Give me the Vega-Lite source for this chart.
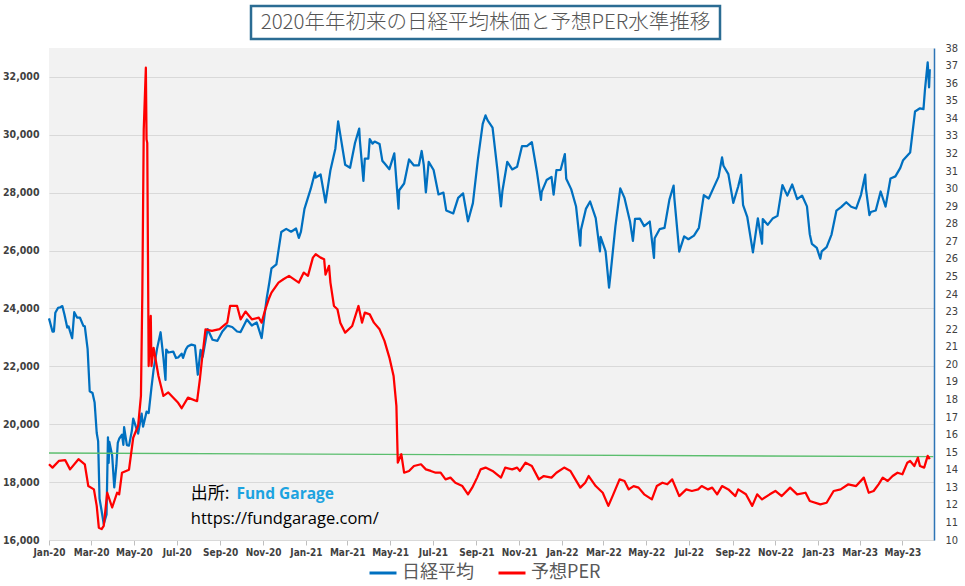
{
  "$schema": "https://vega.github.io/schema/vega-lite/v6.json",
  "background": "white",
  "padding": {"top": 4, "left": 2, "right": 3, "bottom": 0},
  "config": {"view": {"stroke": null}, "font": "Noto Sans CJK JP"},
  "spacing": 1,
  "center": false,
  "datasets": {
    "nikkei": [
      {"date":"2020-01-01","value":23657},{"date":"2020-01-06","value":23204},{"date":"2020-01-08","value":23204},{"date":"2020-01-10","value":23850},{"date":"2020-01-14","value":24025},{"date":"2020-01-17","value":24041},{"date":"2020-01-20","value":24083},{"date":"2020-01-23","value":23795},{"date":"2020-01-27","value":23343},{"date":"2020-01-29","value":23379},{"date":"2020-01-31","value":23205},
      {"date":"2020-02-03","value":22971},{"date":"2020-02-06","value":23873},{"date":"2020-02-10","value":23686},{"date":"2020-02-14","value":23687},{"date":"2020-02-19","value":23400},{"date":"2020-02-21","value":23386},{"date":"2020-02-25","value":22605},{"date":"2020-02-28","value":21142},
      {"date":"2020-03-03","value":21082},{"date":"2020-03-06","value":20749},{"date":"2020-03-09","value":19698},{"date":"2020-03-11","value":19416},{"date":"2020-03-13","value":17431},{"date":"2020-03-16","value":17002},{"date":"2020-03-19","value":16552},{"date":"2020-03-23","value":16887},{"date":"2020-03-25","value":19546},{"date":"2020-03-26","value":18665},{"date":"2020-03-27","value":19389},{"date":"2020-03-31","value":18917},
      {"date":"2020-04-03","value":17820},{"date":"2020-04-06","value":18576},{"date":"2020-04-08","value":19353},{"date":"2020-04-10","value":19498},{"date":"2020-04-14","value":19638},{"date":"2020-04-16","value":19290},{"date":"2020-04-17","value":19897},{"date":"2020-04-21","value":19280},{"date":"2020-04-24","value":19262},{"date":"2020-04-28","value":19771},{"date":"2020-04-30","value":20193},
      {"date":"2020-05-07","value":19674},{"date":"2020-05-12","value":20366},{"date":"2020-05-14","value":19915},{"date":"2020-05-19","value":20433},{"date":"2020-05-22","value":20388},{"date":"2020-05-26","value":21271},{"date":"2020-05-29","value":21877},
      {"date":"2020-06-03","value":22613},{"date":"2020-06-08","value":23178},{"date":"2020-06-12","value":22305},{"date":"2020-06-15","value":21530},{"date":"2020-06-16","value":22582},{"date":"2020-06-19","value":22478},{"date":"2020-06-26","value":22512},{"date":"2020-06-30","value":22288},
      {"date":"2020-07-03","value":22306},{"date":"2020-07-08","value":22438},{"date":"2020-07-10","value":22290},{"date":"2020-07-14","value":22587},{"date":"2020-07-17","value":22696},{"date":"2020-07-22","value":22751},{"date":"2020-07-27","value":22715},{"date":"2020-07-31","value":21710},
      {"date":"2020-08-04","value":22573},{"date":"2020-08-07","value":22329},{"date":"2020-08-14","value":23289},{"date":"2020-08-21","value":22920},{"date":"2020-08-28","value":22882},
      {"date":"2020-09-04","value":23205},{"date":"2020-09-11","value":23406},{"date":"2020-09-18","value":23360},{"date":"2020-09-25","value":23204},{"date":"2020-09-30","value":23185},
      {"date":"2020-10-09","value":23619},{"date":"2020-10-16","value":23410},{"date":"2020-10-23","value":23516},{"date":"2020-10-30","value":22977},
      {"date":"2020-11-06","value":24325},{"date":"2020-11-10","value":24905},{"date":"2020-11-13","value":25385},{"date":"2020-11-20","value":25527},{"date":"2020-11-27","value":26644},
      {"date":"2020-12-04","value":26751},{"date":"2020-12-11","value":26652},{"date":"2020-12-18","value":26763},{"date":"2020-12-22","value":26436},{"date":"2020-12-25","value":26656},{"date":"2020-12-30","value":27444},
      {"date":"2021-01-08","value":28139},{"date":"2021-01-14","value":28698},{"date":"2021-01-15","value":28519},{"date":"2021-01-22","value":28631},{"date":"2021-01-29","value":27663},
      {"date":"2021-02-05","value":28779},{"date":"2021-02-12","value":29520},{"date":"2021-02-16","value":30467},{"date":"2021-02-19","value":30017},{"date":"2021-02-26","value":28966},
      {"date":"2021-03-05","value":28864},{"date":"2021-03-12","value":29717},{"date":"2021-03-18","value":30216},{"date":"2021-03-19","value":29792},{"date":"2021-03-24","value":28405},{"date":"2021-03-26","value":29176},{"date":"2021-03-31","value":29178},
      {"date":"2021-04-02","value":29854},{"date":"2021-04-06","value":29696},{"date":"2021-04-09","value":29768},{"date":"2021-04-16","value":29683},{"date":"2021-04-20","value":29100},{"date":"2021-04-23","value":29020},{"date":"2021-04-30","value":28812},
      {"date":"2021-05-07","value":29357},{"date":"2021-05-13","value":27448},{"date":"2021-05-14","value":28084},{"date":"2021-05-21","value":28317},{"date":"2021-05-28","value":29149},
      {"date":"2021-06-04","value":28941},{"date":"2021-06-11","value":28948},{"date":"2021-06-15","value":29441},{"date":"2021-06-18","value":28964},{"date":"2021-06-21","value":28010},{"date":"2021-06-25","value":29066},
      {"date":"2021-07-02","value":28783},{"date":"2021-07-09","value":27940},{"date":"2021-07-16","value":28003},{"date":"2021-07-20","value":27388},{"date":"2021-07-30","value":27283},
      {"date":"2021-08-06","value":27820},{"date":"2021-08-13","value":27977},{"date":"2021-08-20","value":27013},{"date":"2021-08-27","value":27641},
      {"date":"2021-09-03","value":29128},{"date":"2021-09-10","value":30381},{"date":"2021-09-14","value":30670},{"date":"2021-09-17","value":30500},{"date":"2021-09-24","value":30249},
      {"date":"2021-10-01","value":28771},{"date":"2021-10-06","value":27528},{"date":"2021-10-08","value":28049},{"date":"2021-10-15","value":29069},{"date":"2021-10-22","value":28805},{"date":"2021-10-29","value":28893},
      {"date":"2021-11-05","value":29612},{"date":"2021-11-12","value":29610},{"date":"2021-11-19","value":29746},{"date":"2021-11-26","value":28752},
      {"date":"2021-12-02","value":27753},{"date":"2021-12-03","value":28030},{"date":"2021-12-10","value":28437},{"date":"2021-12-17","value":28546},{"date":"2021-12-20","value":27937},{"date":"2021-12-24","value":28782},{"date":"2021-12-30","value":28792},
      {"date":"2022-01-05","value":29332},{"date":"2022-01-07","value":28479},{"date":"2022-01-14","value":28124},{"date":"2022-01-21","value":27522},{"date":"2022-01-27","value":26170},{"date":"2022-01-28","value":26717},
      {"date":"2022-02-04","value":27440},{"date":"2022-02-10","value":27696},{"date":"2022-02-18","value":27122},{"date":"2022-02-24","value":25971},{"date":"2022-02-25","value":26476},
      {"date":"2022-03-04","value":25985},{"date":"2022-03-09","value":24717},{"date":"2022-03-11","value":25162},{"date":"2022-03-18","value":26827},{"date":"2022-03-25","value":28149},{"date":"2022-03-31","value":27821},
      {"date":"2022-04-08","value":26985},{"date":"2022-04-12","value":26334},{"date":"2022-04-15","value":27093},{"date":"2022-04-22","value":27105},{"date":"2022-04-28","value":26847},
      {"date":"2022-05-06","value":27003},{"date":"2022-05-12","value":25748},{"date":"2022-05-13","value":26427},{"date":"2022-05-20","value":26739},{"date":"2022-05-27","value":26782},
      {"date":"2022-06-03","value":27761},{"date":"2022-06-09","value":28246},{"date":"2022-06-10","value":27824},{"date":"2022-06-17","value":25963},{"date":"2022-06-24","value":26491},{"date":"2022-06-30","value":26393},
      {"date":"2022-07-08","value":26517},{"date":"2022-07-15","value":26788},{"date":"2022-07-22","value":27914},{"date":"2022-07-29","value":27801},
      {"date":"2022-08-05","value":28175},{"date":"2022-08-12","value":28546},{"date":"2022-08-17","value":29222},{"date":"2022-08-19","value":28930},{"date":"2022-08-26","value":28641},
      {"date":"2022-09-02","value":27650},{"date":"2022-09-09","value":28214},{"date":"2022-09-13","value":28614},{"date":"2022-09-16","value":27567},{"date":"2022-09-22","value":27153},{"date":"2022-09-30","value":25937},
      {"date":"2022-10-07","value":27116},{"date":"2022-10-13","value":26237},{"date":"2022-10-14","value":27090},{"date":"2022-10-21","value":26890},{"date":"2022-10-28","value":27105},
      {"date":"2022-11-04","value":27199},{"date":"2022-11-11","value":28263},{"date":"2022-11-18","value":27899},{"date":"2022-11-25","value":28283},
      {"date":"2022-12-02","value":27777},{"date":"2022-12-09","value":27901},{"date":"2022-12-16","value":27527},{"date":"2022-12-20","value":26568},{"date":"2022-12-23","value":26235},{"date":"2022-12-30","value":26094},
      {"date":"2023-01-04","value":25717},{"date":"2023-01-06","value":25974},{"date":"2023-01-13","value":26119},{"date":"2023-01-20","value":26553},{"date":"2023-01-27","value":27382},
      {"date":"2023-02-03","value":27509},{"date":"2023-02-10","value":27671},{"date":"2023-02-17","value":27513},{"date":"2023-02-24","value":27453},
      {"date":"2023-03-03","value":27927},{"date":"2023-03-09","value":28623},{"date":"2023-03-10","value":28143},{"date":"2023-03-15","value":27229},{"date":"2023-03-17","value":27334},{"date":"2023-03-24","value":27385},{"date":"2023-03-31","value":28041},
      {"date":"2023-04-07","value":27518},{"date":"2023-04-14","value":28493},{"date":"2023-04-21","value":28564},{"date":"2023-04-28","value":28856},
      {"date":"2023-05-02","value":29123},{"date":"2023-05-12","value":29388},{"date":"2023-05-19","value":30808},{"date":"2023-05-26","value":30916},{"date":"2023-05-31","value":30888},
      {"date":"2023-06-02","value":31524},{"date":"2023-06-06","value":32506},{"date":"2023-06-08","value":31641},{"date":"2023-06-09","value":32265}
    ],
    "per": [
      {"date":"2020-01-01","value":14.31},{"date":"2020-01-06","value":14.12},{"date":"2020-01-15","value":14.5},{"date":"2020-01-24","value":14.55},{"date":"2020-01-31","value":14.02},{"date":"2020-02-12","value":14.6},{"date":"2020-02-21","value":14.31},{"date":"2020-02-26","value":13.07},
      {"date":"2020-03-05","value":12.88},{"date":"2020-03-09","value":11.94},{"date":"2020-03-12","value":10.7},{"date":"2020-03-16","value":10.62},{"date":"2020-03-19","value":10.8},{"date":"2020-03-24","value":12.69},{"date":"2020-03-31","value":11.85},
      {"date":"2020-04-07","value":12.69},{"date":"2020-04-10","value":12.6},{"date":"2020-04-14","value":13.83},{"date":"2020-04-24","value":14.0},{"date":"2020-04-30","value":15.82},
      {"date":"2020-05-07","value":16.5},{"date":"2020-05-11","value":18.2},{"date":"2020-05-13","value":24.08},{"date":"2020-05-15","value":33.37},{"date":"2020-05-18","value":36.88},{"date":"2020-05-19","value":32.8},{"date":"2020-05-20","value":32.6},{"date":"2020-05-22","value":19.9},{"date":"2020-05-25","value":22.75},{"date":"2020-05-26","value":19.9},{"date":"2020-05-29","value":20.94},
      {"date":"2020-06-05","value":19.33},{"date":"2020-06-12","value":18.2},{"date":"2020-06-19","value":18.4},{"date":"2020-07-03","value":17.81},{"date":"2020-07-08","value":17.5},{"date":"2020-07-17","value":18.1},{"date":"2020-07-30","value":17.9},
      {"date":"2020-08-03","value":19.15},{"date":"2020-08-06","value":20.28},{"date":"2020-08-11","value":21.99},{"date":"2020-08-20","value":21.9},{"date":"2020-08-31","value":22.0},
      {"date":"2020-09-11","value":22.37},{"date":"2020-09-15","value":23.32},{"date":"2020-09-25","value":23.32},{"date":"2020-09-30","value":22.56},
      {"date":"2020-10-07","value":23.0},{"date":"2020-10-16","value":22.56},{"date":"2020-10-26","value":22.65},{"date":"2020-10-30","value":22.37},
      {"date":"2020-11-04","value":23.1},{"date":"2020-11-09","value":23.7},{"date":"2020-11-13","value":24.08},{"date":"2020-11-23","value":24.65},{"date":"2020-11-30","value":24.84},
      {"date":"2020-12-08","value":25.03},{"date":"2020-12-22","value":24.65},{"date":"2020-12-29","value":25.22},
      {"date":"2021-01-04","value":25.03},{"date":"2021-01-11","value":26.07},{"date":"2021-01-15","value":26.26},{"date":"2021-01-22","value":26.07},{"date":"2021-01-27","value":25.98},{"date":"2021-01-29","value":25.1},
      {"date":"2021-02-03","value":25.6},{"date":"2021-02-05","value":24.65},{"date":"2021-02-10","value":23.32},{"date":"2021-02-15","value":23.13},{"date":"2021-02-19","value":22.37},{"date":"2021-02-26","value":21.8},
      {"date":"2021-03-08","value":22.18},{"date":"2021-03-17","value":23.32},{"date":"2021-03-22","value":22.37},{"date":"2021-03-26","value":22.94},
      {"date":"2021-04-02","value":22.84},{"date":"2021-04-08","value":22.37},{"date":"2021-04-16","value":21.99},{"date":"2021-04-23","value":21.33},{"date":"2021-04-30","value":20.38},
      {"date":"2021-05-06","value":19.33},{"date":"2021-05-10","value":17.63},{"date":"2021-05-12","value":14.4},{"date":"2021-05-17","value":14.88},{"date":"2021-05-21","value":13.83},{"date":"2021-05-28","value":13.93},
      {"date":"2021-06-04","value":14.21},{"date":"2021-06-14","value":14.31},{"date":"2021-06-21","value":14.02},{"date":"2021-06-28","value":13.93},
      {"date":"2021-07-05","value":13.83},{"date":"2021-07-12","value":13.83},{"date":"2021-07-19","value":13.45},{"date":"2021-07-26","value":13.55},
      {"date":"2021-08-02","value":13.26},{"date":"2021-08-12","value":13.07},{"date":"2021-08-20","value":12.6},{"date":"2021-08-26","value":12.98},
      {"date":"2021-09-02","value":13.55},{"date":"2021-09-07","value":14.02},{"date":"2021-09-14","value":14.12},{"date":"2021-09-24","value":13.93},
      {"date":"2021-10-06","value":13.55},{"date":"2021-10-12","value":14.12},{"date":"2021-10-22","value":14.02},{"date":"2021-10-29","value":14.12},
      {"date":"2021-11-02","value":13.93},{"date":"2021-11-10","value":14.4},{"date":"2021-11-19","value":14.21},{"date":"2021-11-29","value":13.45},
      {"date":"2021-12-06","value":13.64},{"date":"2021-12-17","value":13.55},{"date":"2021-12-24","value":13.83},
      {"date":"2022-01-04","value":14.12},{"date":"2022-01-13","value":13.93},{"date":"2022-01-20","value":13.45},{"date":"2022-01-27","value":12.98},
      {"date":"2022-02-03","value":13.26},{"date":"2022-02-08","value":13.64},{"date":"2022-02-18","value":13.07},{"date":"2022-02-28","value":12.69},
      {"date":"2022-03-08","value":11.94},{"date":"2022-03-14","value":12.5},{"date":"2022-03-24","value":13.45},{"date":"2022-03-31","value":13.36},
      {"date":"2022-04-06","value":12.88},{"date":"2022-04-13","value":13.07},{"date":"2022-04-20","value":12.98},{"date":"2022-04-28","value":12.6},
      {"date":"2022-05-09","value":12.31},{"date":"2022-05-16","value":13.07},{"date":"2022-05-24","value":13.26},{"date":"2022-05-31","value":13.17},
      {"date":"2022-06-07","value":13.45},{"date":"2022-06-17","value":12.5},{"date":"2022-06-27","value":12.88},
      {"date":"2022-07-05","value":12.79},{"date":"2022-07-14","value":12.88},{"date":"2022-07-19","value":13.07},{"date":"2022-07-28","value":12.88},
      {"date":"2022-08-03","value":12.98},{"date":"2022-08-10","value":12.6},{"date":"2022-08-17","value":13.07},{"date":"2022-08-26","value":12.88},
      {"date":"2022-09-05","value":12.5},{"date":"2022-09-09","value":12.88},{"date":"2022-09-20","value":12.6},{"date":"2022-09-29","value":11.94},
      {"date":"2022-10-06","value":12.6},{"date":"2022-10-13","value":12.31},{"date":"2022-10-24","value":12.6},
      {"date":"2022-11-01","value":12.79},{"date":"2022-11-10","value":12.5},{"date":"2022-11-22","value":12.98},
      {"date":"2022-12-02","value":12.6},{"date":"2022-12-14","value":12.69},{"date":"2022-12-20","value":12.22},
      {"date":"2023-01-04","value":12.03},{"date":"2023-01-13","value":12.12},{"date":"2023-01-23","value":12.79},
      {"date":"2023-02-02","value":12.88},{"date":"2023-02-13","value":13.17},{"date":"2023-02-24","value":13.07},
      {"date":"2023-03-07","value":13.55},{"date":"2023-03-14","value":12.69},{"date":"2023-03-21","value":12.79},{"date":"2023-03-28","value":13.17},
      {"date":"2023-04-03","value":13.55},{"date":"2023-04-10","value":13.36},{"date":"2023-04-17","value":13.64},{"date":"2023-04-24","value":13.83},
      {"date":"2023-05-01","value":13.74},{"date":"2023-05-08","value":14.4},{"date":"2023-05-12","value":14.5},{"date":"2023-05-18","value":14.21},{"date":"2023-05-23","value":14.69},{"date":"2023-05-26","value":14.21},
      {"date":"2023-06-01","value":14.12},{"date":"2023-06-06","value":14.79},{"date":"2023-06-09","value":14.6}
    ],
    "base": [
      {"date":"2020-01-01","value":14.95},{"date":"2023-06-14","value":14.74}
    ]
  },
  "vconcat": [
    {
      "hconcat": [
        {
          "width": 200,
          "height": 33,
          "data": {"values": [{"t": ""}]},
          "mark": {"type": "text"},
          "encoding": {"text": {"field": "t", "type": "nominal"}}
        },
        {
          "width": 469,
          "height": 33,
          "view": {"stroke": "#2B6C93", "strokeWidth": 2.5, "fill": "white"},
          "data": {"values": [{"t": "2020年年初来の日経平均株価と予想PER水準推移"}]},
          "mark": {"type": "text", "fontSize": 20.5, "font": "Noto Sans CJK JP", "fontWeight": 300, "color": "#555555"},
          "encoding": {"text": {"field": "t", "type": "nominal"}}
        }
      ],
      "spacing": 0
    },
    {
      "width": 885,
      "height": 492,
      "view": {"fill": "#F2F2F2", "stroke": null},
      "encoding": {
        "x": {
          "field": "date",
          "type": "temporal",
          "title": null,
          "scale": {"type": "utc", "domain": [{"year":2020,"month":1,"date":1,"utc":true},{"year":2023,"month":6,"date":15,"utc":true}]},
          "axis": {
            "values": [
              {"year":2020,"month":1,"date":1,"utc":true},{"year":2020,"month":3,"date":1,"utc":true},{"year":2020,"month":5,"date":1,"utc":true},{"year":2020,"month":7,"date":1,"utc":true},{"year":2020,"month":9,"date":1,"utc":true},{"year":2020,"month":11,"date":1,"utc":true},
              {"year":2021,"month":1,"date":1,"utc":true},{"year":2021,"month":3,"date":1,"utc":true},{"year":2021,"month":5,"date":1,"utc":true},{"year":2021,"month":7,"date":1,"utc":true},{"year":2021,"month":9,"date":1,"utc":true},{"year":2021,"month":11,"date":1,"utc":true},
              {"year":2022,"month":1,"date":1,"utc":true},{"year":2022,"month":3,"date":1,"utc":true},{"year":2022,"month":5,"date":1,"utc":true},{"year":2022,"month":7,"date":1,"utc":true},{"year":2022,"month":9,"date":1,"utc":true},{"year":2022,"month":11,"date":1,"utc":true},
              {"year":2023,"month":1,"date":1,"utc":true},{"year":2023,"month":3,"date":1,"utc":true},{"year":2023,"month":5,"date":1,"utc":true}
            ],
            "format": "%b-%y",
            "grid": false,
            "labelFont": "DejaVu Sans Condensed",
            "labelFontSize": 10,
            "labelFontWeight": "bold",
            "labelColor": "#404040",
            "labelFlush": false,
            "labelOverlap": false,
            "tickColor": "#BFBFBF",
            "tickSize": 5,
            "domainColor": "#D9D9D9",
            "labelPadding": 2
          }
        }
      },
      "layer": [
        {
          "encoding": {
            "y": {
              "field": "value",
              "type": "quantitative",
              "title": null,
              "scale": {"domain": [16000, 33000], "nice": false, "zero": false},
              "axis": {
                "orient": "left",
                "values": [16000, 18000, 20000, 22000, 24000, 26000, 28000, 30000, 32000],
                "format": ",d",
                "grid": true,
                "gridColor": "#D9D9D9",
                "domain": false,
                "ticks": false,
                "labelPadding": 10,
                "labelFont": "DejaVu Sans Condensed",
                "labelFontWeight": "bold",
                "labelFontSize": 10.5,
                "labelColor": "#404040"
              }
            }
          },
          "layer": [
            {
              "data": {"name": "nikkei"},
              "mark": {"type": "line", "strokeWidth": 2.25, "strokeJoin": "round"},
              "encoding": {
                "color": {
                  "datum": "日経平均",
                  "type": "nominal",
                  "scale": {"domain": ["日経平均", "予想PER"], "range": ["#0070C0", "#FF0000"]},
                  "legend": {
                    "orient": "none",
                    "legendX": 319,
                    "legendY": 552,
                    "direction": "horizontal",
                    "title": null,
                    "symbolType": "stroke",
                    "symbolSize": 729,
                    "symbolStrokeWidth": 3,
                    "labelFont": "Noto Sans CJK JP",
                    "labelFontSize": 18,
                    "labelColor": "#595959",
                    "labelOffset": 4,
                    "columnPadding": 18
                  }
                }
              }
            },
            {
              "data": {"values": [{"date": "2020-07-21", "value": 17586, "label": "出所:"}]},
              "mark": {"type": "text", "align": "left", "baseline": "middle", "font": "Noto Sans CJK JP", "fontSize": 17, "color": "#000000"},
              "encoding": {"text": {"field": "label", "type": "nominal"}}
            },
            {
              "data": {"values": [{"date": "2020-09-24", "value": 17586, "label": "Fund Garage"}]},
              "mark": {"type": "text", "align": "left", "baseline": "middle", "font": "Open Sans", "fontWeight": "bold", "fontSize": 15.5, "color": "#1CA3E0"},
              "encoding": {"text": {"field": "label", "type": "nominal"}}
            },
            {
              "data": {"values": [{"date": "2020-07-21", "value": 16724, "label": "https://fundgarage.com/"}]},
              "mark": {"type": "text", "align": "left", "baseline": "middle", "font": "Open Sans", "fontSize": 16.5, "color": "#000000"},
              "encoding": {"text": {"field": "label", "type": "nominal"}}
            }
          ]
        },
        {
          "encoding": {
            "y": {
              "field": "value",
              "type": "quantitative",
              "title": null,
              "scale": {"domain": [10, 38], "nice": false, "zero": false},
              "axis": {
                "orient": "right",
                "values": [10,11,12,13,14,15,16,17,18,19,20,21,22,23,24,25,26,27,28,29,30,31,32,33,34,35,36,37,38],
                "format": "d",
                "grid": false,
                "domain": true,
                "domainColor": "#2E75B6",
                "domainWidth": 1.5,
                "ticks": false,
                "labelPadding": 11,
                "labelFont": "DejaVu Sans Condensed",
                "labelFontSize": 11,
                "labelColor": "#404040"
              }
            }
          },
          "layer": [
            {
              "data": {"name": "base"},
              "mark": {"type": "line", "strokeWidth": 1.3, "color": "#5BBE6E"},
              "encoding": {}
            },
            {
              "data": {"name": "per"},
              "mark": {"type": "line", "strokeWidth": 2.25, "strokeJoin": "round"},
              "encoding": {"color": {"datum": "予想PER", "type": "nominal"}}
            }
          ]
        }
      ],
      "resolve": {"scale": {"y": "independent"}}
    }
  ]
}
